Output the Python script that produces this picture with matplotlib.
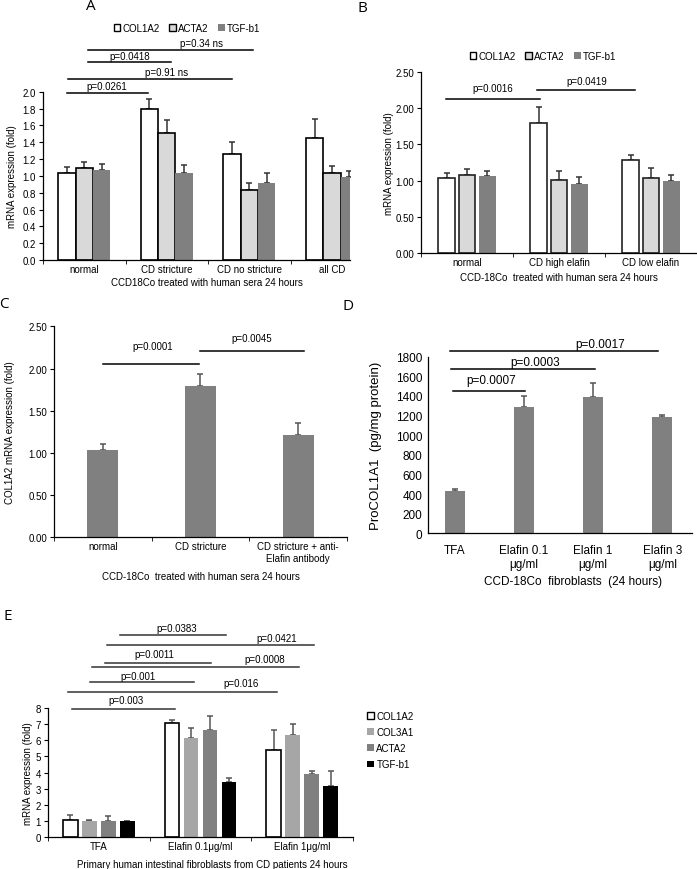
import numpy as np
import matplotlib
matplotlib.use('Agg')
import matplotlib.pyplot as plt
from matplotlib.patches import Patch

plt.rcParams['font.family'] = ['Liberation Sans', 'DejaVu Sans']
plt.rcParams['font.size'] = 7
plt.rcParams['axes.linewidth'] = 0.9

# ---- data ----
a_groups = ['normal', 'CD stricture', 'CD no stricture', 'all CD']
a_col1a2 = [1.03, 1.80, 1.26, 1.45]
a_col1a2_err = [0.08, 0.11, 0.14, 0.22]
a_acta2 = [1.09, 1.51, 0.83, 1.03]
a_acta2_err = [0.07, 0.15, 0.09, 0.09]
a_tgfb1 = [1.07, 1.03, 0.92, 0.99]
a_tgfb1_err = [0.07, 0.10, 0.11, 0.07]

b_groups = ['normal', 'CD high elafin', 'CD low elafin']
b_col1a2 = [1.03, 1.79, 1.28]
b_col1a2_err = [0.07, 0.23, 0.07]
b_acta2 = [1.08, 1.01, 1.04]
b_acta2_err = [0.08, 0.12, 0.13]
b_tgfb1 = [1.06, 0.95, 0.99]
b_tgfb1_err = [0.07, 0.10, 0.09]

c_groups = ['normal', 'CD stricture', 'CD stricture + anti-\nElafin antibody']
c_col1a2 = [1.03, 1.79, 1.21]
c_col1a2_err = [0.07, 0.15, 0.14]

d_groups = ['TFA', 'Elafin 0.1\n\u03bcg/ml', 'Elafin 1\n\u03bcg/ml', 'Elafin 3\n\u03bcg/ml']
d_procol = [435, 1290, 1385, 1190]
d_procol_err = [20, 110, 150, 15]

e_groups = ['TFA', 'Elafin 0.1\u03bcg/ml', 'Elafin 1\u03bcg/ml']
e_col1a2 = [1.08, 7.10, 5.38]
e_col1a2_err = [0.27, 0.18, 1.26]
e_col3a1 = [0.98, 6.12, 6.33]
e_col3a1_err = [0.12, 0.62, 0.68]
e_acta2 = [1.00, 6.64, 3.92]
e_acta2_err = [0.33, 0.86, 0.20]
e_tgfb1 = [0.98, 3.44, 3.20]
e_tgfb1_err = [0.05, 0.25, 0.92]

# significance brackets: x0, x1, y, label, text x, text y
a_sig = [(-0.21, 0.77, 1.98, 'p=0.0261', 0.27, 2.07),
         (-0.20, 1.79, 2.145, 'p=0.91 ns', 1.0, 2.24),
         (0.05, 1.05, 2.35, 'p=0.0418', 0.55, 2.43),
         (0.05, 2.05, 2.49, 'p=0.34 ns', 1.42, 2.58)]
b_sig = [(-0.23, 0.79, 2.125, 'p=0.0016', 0.28, 2.27),
         (0.76, 1.83, 2.25, 'p=0.0419', 1.30, 2.37)]
c_sig = [(0.0, 0.98, 2.05, 'p=0.0001', 0.51, 2.27),
         (1.0, 2.06, 2.21, 'p=0.0045', 1.52, 2.36)]
d_sig = [(-0.03, 1.01, 1453, 'p=0.0007', 0.52, 1560),
         (-0.06, 2.03, 1674, 'p=0.0003', 1.16, 1745),
         (-0.07, 2.94, 1854, 'p=0.0017', 2.10, 1930)]
e_sig = [(-0.26, 0.75, 7.96, 'p=0.003', 0.27, 8.49),
         (-0.30, 1.75, 8.99, 'p=0.016', 1.40, 9.56),
         (-0.09, 0.94, 9.63, 'p=0.001', 0.39, 9.98),
         (-0.07, 1.97, 10.53, 'p=0.0008', 1.63, 11.04),
         (0.06, 1.10, 10.79, 'p=0.0011', 0.55, 11.32),
         (0.08, 2.12, 11.87, 'p=0.0421', 1.75, 12.31),
         (0.21, 1.25, 12.49, 'p=0.0383', 0.77, 12.96)]

W, H = 697, 870
fig = plt.figure(figsize=(W / 100, H / 100), dpi=100)


def px_axes(l, r, b, t):
    return fig.add_axes([l / W, 1 - b / H, (r - l) / W, (b - t) / H])


def style(ax, n, fs=7):
    for s in ['top', 'right']:
        ax.spines[s].set_visible(False)
    ax.set_xticks(range(n))
    ax.set_xticks(np.arange(n + 1) - 0.5, minor=True)
    ax.tick_params(axis='x', which='major', length=0, pad=3, labelsize=fs)
    ax.tick_params(axis='x', which='minor', length=3, direction='out')
    ax.tick_params(axis='y', length=3, direction='out', labelsize=fs, pad=2)


def bars(ax, x, vals, errs, w, fc, ec, ecol='#333333'):
    ax.bar(x, vals, w, color=fc, edgecolor=ec, linewidth=1.2 if ec != 'none' else 0, zorder=2)
    ax.errorbar(x, vals, yerr=[np.zeros(len(vals)), errs], fmt='none', ecolor=ecol,
                elinewidth=1.1, capsize=2.2, capthick=1.1, zorder=1)


def sig(ax, items, fs=7, lw=1.1, color='black'):
    for x0, x1, y, lab, tx, ty in items:
        ax.plot([x0, x1], [y, y], color=color, lw=lw, clip_on=False)
        ax.text(tx, ty, lab, ha='center', va='center', fontsize=fs, clip_on=False)


# ---- panel A ----
ax = px_axes(43, 350, 261, 92.7)
x = np.arange(len(a_groups))
bars(ax, x - 0.21, a_col1a2, a_col1a2_err, 0.21, 'white', 'black')
bars(ax, x, a_acta2, a_acta2_err, 0.21, '#d9d9d9', 'black')
bars(ax, x + 0.21, a_tgfb1, a_tgfb1_err, 0.21, '#808080', 'none')
style(ax, len(a_groups))
ax.set_xticklabels(a_groups)
ax.set_xlim(-0.5, 3.22)
ax.set_ylim(0, 2.0)
ax.set_yticks(np.arange(0, 2.01, 0.2))
ax.set_yticklabels(['%.1f' % v for v in np.arange(0, 2.01, 0.2)])
ax.set_ylabel('mRNA expression (fold)')
ax.yaxis.set_label_coords(-0.084, 0.5)
ax.set_xlabel('CCD18Co treated with human sera 24 hours')
ax.xaxis.set_label_coords(0.534, -0.101)
sig(ax, a_sig)
ax.legend(handles=[Patch(facecolor='white', edgecolor='black', label='COL1A2'),
                   Patch(facecolor='#d9d9d9', edgecolor='black', label='ACTA2'),
                   Patch(facecolor='#808080', edgecolor='none', label='TGF-b1')],
          loc='center', bbox_to_anchor=(187 / W, 1 - 29 / H), bbox_transform=fig.transFigure,
          ncol=3, frameon=False, handlelength=0.7, handleheight=0.7, handletextpad=0.2,
          columnspacing=1.0, fontsize=7)
fig.text(91 / W, 1 - 7 / H, 'A', fontsize=11, family='Open Sans', ha='center', va='center')

# ---- panel B ----
ax = px_axes(421, 697, 254.3, 72.7)
x = np.arange(len(b_groups))
bars(ax, x - 0.22, b_col1a2, b_col1a2_err, 0.18, 'white', '#222222')
bars(ax, x, b_acta2, b_acta2_err, 0.18, '#d9d9d9', '#222222')
bars(ax, x + 0.22, b_tgfb1, b_tgfb1_err, 0.18, '#808080', 'none')
style(ax, len(b_groups))
ax.set_xticklabels(b_groups)
ax.set_xlim(-0.5, 2.5)
ax.set_ylim(0, 2.5)
ax.set_yticks(np.arange(0, 2.51, 0.5))
ax.set_yticklabels(['%.2f' % v for v in np.arange(0, 2.51, 0.5)])
ax.set_ylabel('mRNA expression (fold)')
ax.yaxis.set_label_coords(-0.098, 0.5)
ax.set_xlabel('CCD-18Co  treated with human sera 24 hours')
ax.xaxis.set_label_coords(0.5, -0.103)
sig(ax, b_sig)
ax.legend(handles=[Patch(facecolor='white', edgecolor='black', label='COL1A2'),
                   Patch(facecolor='#d9d9d9', edgecolor='black', label='ACTA2'),
                   Patch(facecolor='#808080', edgecolor='none', label='TGF-b1')],
          loc='center', bbox_to_anchor=(543 / W, 1 - 57 / H), bbox_transform=fig.transFigure,
          ncol=3, frameon=False, handlelength=0.7, handleheight=0.7, handletextpad=0.2,
          columnspacing=1.0, fontsize=7)
fig.text(362 / W, 1 - 8 / H, 'B', fontsize=11, family='Open Sans', ha='center', va='center')

# ---- panel C ----
ax = px_axes(54, 347, 538.3, 327.3)
x = np.arange(len(c_groups))
bars(ax, x, c_col1a2, c_col1a2_err, 0.32, '#808080', 'none', ecol='#555555')
style(ax, len(c_groups))
ax.set_xticklabels(c_groups)
ax.set_xlim(-0.5, 2.5)
ax.set_ylim(0, 2.5)
ax.set_yticks(np.arange(0, 2.51, 0.5))
ax.set_yticklabels(['%.2f' % v for v in np.arange(0, 2.51, 0.5)])
ax.set_ylabel('COL1A2 mRNA expression (fold)')
ax.yaxis.set_label_coords(-0.133, 0.5)
ax.set_xlabel('CCD-18Co  treated with human sera 24 hours')
ax.xaxis.set_label_coords(0.5, -0.16)
sig(ax, c_sig)
fig.text(4 / W, 1 - 305 / H, 'C', fontsize=11, family='Open Sans', ha='center', va='center')

# ---- panel D ----
ax = px_axes(428, 692, 534.3, 357.7)
x = np.arange(len(d_groups))
bars(ax, x, d_procol, d_procol_err, 0.29, '#808080', 'none', ecol='#555555')
for s in ['top', 'right']:
    ax.spines[s].set_visible(False)
ax.set_xticks(x)
ax.set_xticklabels(d_groups)
ax.tick_params(axis='x', length=0, pad=8, labelsize=8.5)
ax.tick_params(axis='y', length=0, labelsize=8.5, pad=4)
ax.set_xlim(-0.39, 3.43)
ax.set_ylim(0, 1800)
ax.set_yticks(np.arange(0, 1801, 200))
ax.set_ylabel('ProCOL1A1  (pg/mg protein)', fontsize=9.5)
ax.yaxis.set_label_coords(-0.173, 0.5)
ax.set_xlabel('CCD-18Co  fibroblasts  (24 hours)', fontsize=8.5)
ax.xaxis.set_label_coords(0.55, -0.236)
sig(ax, d_sig, fs=8.5)
fig.text(348 / W, 1 - 307 / H, 'D', fontsize=11, family='Open Sans', ha='center', va='center')

# ---- panel E ----
ax = px_axes(48, 353, 838.3, 709)
x = np.arange(len(e_groups))
sp = 0.187
bars(ax, x - 1.5 * sp, e_col1a2, e_col1a2_err, 0.147, 'white', 'black', ecol='#555555')
bars(ax, x - 0.5 * sp, e_col3a1, e_col3a1_err, 0.147, '#a6a6a6', 'none', ecol='#555555')
bars(ax, x + 0.5 * sp, e_acta2, e_acta2_err, 0.147, '#808080', 'none', ecol='#555555')
bars(ax, x + 1.5 * sp, e_tgfb1, e_tgfb1_err, 0.147, 'black', 'none', ecol='#555555')
style(ax, len(e_groups))
ax.set_xticklabels(e_groups)
ax.set_xlim(-0.5, 2.5)
ax.set_ylim(0, 8)
ax.set_yticks(range(0, 9))
ax.set_ylabel('mRNA expression (fold)')
ax.yaxis.set_label_coords(-0.05, 0.5)
ax.set_xlabel('Primary human intestinal fibroblasts from CD patients 24 hours')
ax.xaxis.set_label_coords(0.54, -0.17)
sig(ax, e_sig, color='#333333')
ax.legend(handles=[Patch(facecolor='white', edgecolor='black', label='COL1A2'),
                   Patch(facecolor='#a6a6a6', edgecolor='none', label='COL3A1'),
                   Patch(facecolor='#808080', edgecolor='none', label='ACTA2'),
                   Patch(facecolor='black', edgecolor='none', label='TGF-b1')],
          loc='center left', bbox_to_anchor=(358 / W, 1 - 741 / H), bbox_transform=fig.transFigure,
          frameon=False, handlelength=0.7, handleheight=0.7, handletextpad=0.3,
          labelspacing=0.65, fontsize=7)
fig.text(8 / W, 1 - 617 / H, 'E', fontsize=11, family='Open Sans', ha='center', va='center')

fig.savefig('out.png', dpi=100)
